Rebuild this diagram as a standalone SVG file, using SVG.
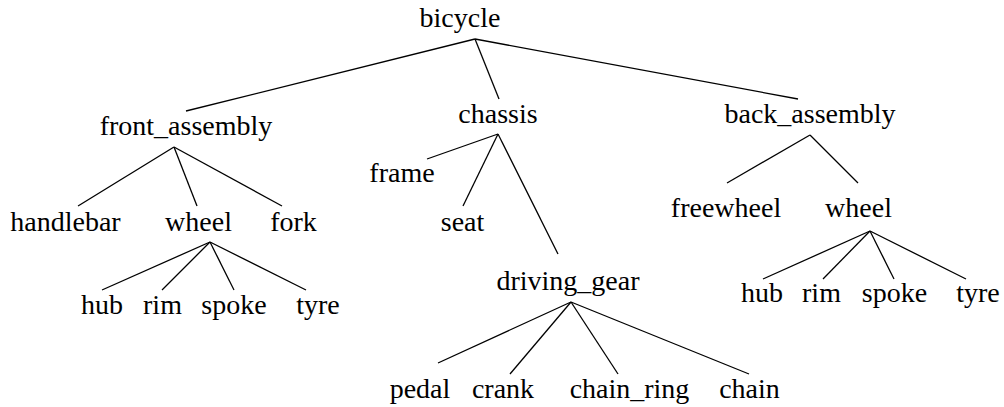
<svg xmlns="http://www.w3.org/2000/svg" width="1004" height="407" viewBox="0 0 1004 407">
<style>
text{font-family:"Liberation Serif","Times New Roman",serif;font-size:28px;fill:#000;text-anchor:middle}
line{stroke:#000;stroke-width:1.3}
</style>
<rect width="1004" height="407" fill="#fff"/>
<g id="connectors">
<line x1="475" y1="39" x2="186" y2="111"/>
<line x1="475" y1="39" x2="499" y2="99"/>
<line x1="475" y1="39" x2="798" y2="99"/>
<line x1="174" y1="147" x2="78" y2="206"/>
<line x1="174" y1="147" x2="197" y2="206"/>
<line x1="174" y1="147" x2="282" y2="206"/>
<line x1="498" y1="134" x2="427" y2="159"/>
<line x1="498" y1="134" x2="463" y2="206"/>
<line x1="498" y1="134" x2="558" y2="254"/>
<line x1="810" y1="135" x2="727" y2="183"/>
<line x1="810" y1="135" x2="858" y2="183"/>
<line x1="210" y1="242" x2="102" y2="290"/>
<line x1="210" y1="242" x2="162" y2="290"/>
<line x1="210" y1="242" x2="234" y2="290"/>
<line x1="210" y1="242" x2="306" y2="290"/>
<line x1="571" y1="302" x2="438" y2="363"/>
<line x1="571" y1="302" x2="510" y2="374"/>
<line x1="571" y1="302" x2="618" y2="374"/>
<line x1="571" y1="302" x2="749" y2="374"/>
<line x1="870" y1="231" x2="763" y2="279"/>
<line x1="870" y1="231" x2="823" y2="279"/>
<line x1="870" y1="231" x2="894" y2="279"/>
<line x1="870" y1="231" x2="966" y2="279"/>
</g>
<g id="bicycle"><text x="460" y="27">bicycle</text></g>
<g id="front_assembly"><text x="186" y="135">front_assembly</text></g>
<g id="chassis"><text x="498" y="123">chassis</text></g>
<g id="back_assembly"><text x="810" y="123">back_assembly</text></g>
<g id="handlebar"><text x="65.5" y="231">handlebar</text></g>
<g id="front_wheel"><text x="198.5" y="231">wheel</text></g>
<g id="fork"><text x="293.5" y="231">fork</text></g>
<g id="frame"><text x="402" y="182">frame</text></g>
<g id="seat"><text x="462.5" y="231">seat</text></g>
<g id="driving_gear"><text x="568" y="290">driving_gear</text></g>
<g id="freewheel"><text x="726" y="217">freewheel</text></g>
<g id="back_wheel"><text x="858.5" y="217">wheel</text></g>
<g id="front_hub"><text x="102" y="314">hub</text></g>
<g id="front_rim"><text x="162.5" y="314">rim</text></g>
<g id="front_spoke"><text x="234" y="314">spoke</text></g>
<g id="front_tyre"><text x="318" y="314">tyre</text></g>
<g id="pedal"><text x="420" y="398">pedal</text></g>
<g id="crank"><text x="503" y="398">crank</text></g>
<g id="chain_ring"><text x="629.5" y="398">chain_ring</text></g>
<g id="chain"><text x="749.5" y="398">chain</text></g>
<g id="back_hub"><text x="762" y="302">hub</text></g>
<g id="back_rim"><text x="821.5" y="302">rim</text></g>
<g id="back_spoke"><text x="894.5" y="302">spoke</text></g>
<g id="back_tyre"><text x="978" y="302">tyre</text></g>
</svg>
